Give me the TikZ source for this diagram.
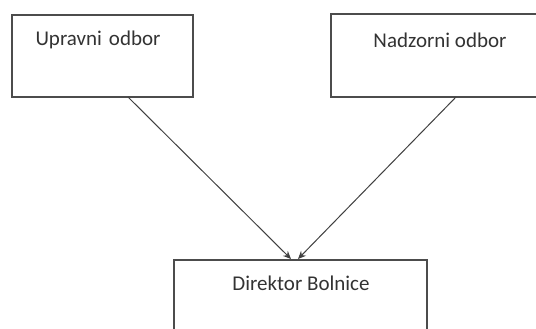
\documentclass[tikz,border=0pt]{standalone}
\usepackage{fontspec}
\setmainfont{Carlito}
\usetikzlibrary{arrows.meta}
\begin{document}
\begin{tikzpicture}[x=1pt,y=-1pt,
  box/.style={draw=black!70,line width=1.2pt},
  lbl/.style={font=\fontsize{21}{24}\selectfont,text=black!80,inner sep=0pt},
  conn/.style={draw=black!75,line width=1pt,-{Stealth[length=8pt,width=7pt]}}]
\useasboundingbox (0,0) rectangle (536,329);
\begin{scope}
\clip (0,0) rectangle (536,329);
\draw[box] (12,15) rectangle (193,97);
\draw[box] (331,14) rectangle (545,97);
\draw[box] (174,260) rectangle (427,340);
\end{scope}
\node[lbl] (upr) at (98,40) {Upravni\,\,odbor};
\node[lbl] (nad) at (440,40) {Nadzorni odbor};
\node[lbl] (dir) at (301,283) {Direktor Bolnice};
\coordinate (a1) at (128,97);
\coordinate (a2) at (456,97);
\coordinate (t1) at (291,259);
\coordinate (t2) at (298,259);
\draw[conn] (a1) -- (t1);
\draw[conn] (a2) -- (t2);
\end{tikzpicture}
\end{document}
